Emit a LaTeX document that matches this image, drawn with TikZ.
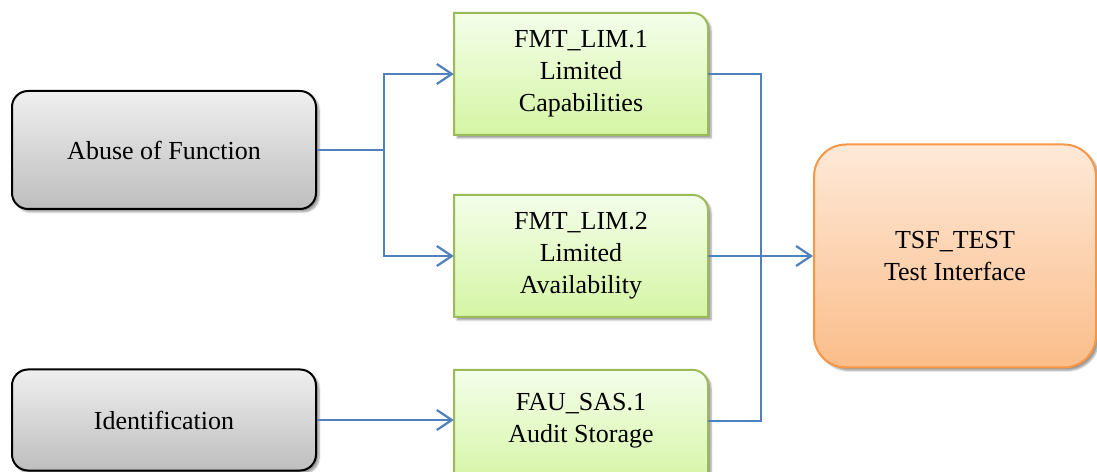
\documentclass[tikz,border=0pt]{standalone}
\usepackage{fontspec}
\setmainfont{Liberation Serif}
\newfontfamily\tnr{Liberation Serif}
\usetikzlibrary{arrows.meta,shadows,shadows.blur}
\definecolor{cblue}{HTML}{4F81BD}
\definecolor{cgreen}{HTML}{9BBB59}
\definecolor{gtop}{HTML}{F4FEEA}
\definecolor{gbot}{HTML}{D5F5A4}
\definecolor{corange}{HTML}{F79646}
\definecolor{otop}{HTML}{FEE9D8}
\definecolor{obot}{HTML}{FBBD8A}
\definecolor{graytop}{HTML}{EFEFEF}
\definecolor{graybot}{HTML}{BEBEBE}
\tikzset{
  txt/.style={font=\tnr\fontsize{26}{32}\selectfont, align=center, inner sep=0pt},
  graybox/.style={txt, draw=black, line width=2pt, rounded corners=16pt,
    top color=graytop, bottom color=graybot,
    blur shadow={shadow xshift=3pt, shadow yshift=-3pt, shadow blur steps=6, shadow opacity=40}},
  greenslot/.style={txt, minimum width=254pt, minimum height=100pt},
  greenbox/.style={draw=cgreen, line width=2pt, top color=gtop, bottom color=gbot,
    blur shadow={shadow xshift=3pt, shadow yshift=-3pt, shadow blur steps=6, shadow opacity=40}},
  orangebox/.style={txt, draw=corange, line width=2pt, rounded corners=32pt,
    top color=otop, bottom color=obot,
    blur shadow={shadow xshift=3pt, shadow yshift=-3pt, shadow blur steps=6, shadow opacity=40}},
  conn/.style={draw=cblue, line width=2.2pt},
  arr/.style={conn, -{Straight Barb[length=15pt, width=20pt, line width=2.2pt]}}
}
% green box: #1 name, #2 text centre, #3 box top y, #4 box bottom y, #5 text
\newcommand\greennode[5]{%
  \path[greenbox] (454,#4) -- (454,#3) -- (693,#3)
    arc[start angle=90, end angle=0, radius=15] -- (708,#4) -- cycle;
  \node[greenslot] (#1) at (#2) {#5};}
\begin{document}
\begin{tikzpicture}[x=1pt, y=1pt]
\useasboundingbox (0,0) rectangle (1097,471);
% left boxes
\node[graybox, minimum width=304pt, minimum height=118pt] (abuse) at (164,321) {Abuse of Function};
\node[graybox, minimum width=304pt, minimum height=101pt] (ident) at (164,51) {Identification};
% green boxes
\greennode{f1}{581,397}{458}{336}{FMT\_LIM.1\\Limited\\Capabilities}
\greennode{f2}{581,215}{276}{154}{FMT\_LIM.2\\Limited\\Availability}
\greennode{f3}{581,50}{101}{-15}{FAU\_SAS.1\\Audit Storage}
% right box
\node[orangebox, minimum width=282pt, minimum height=223pt] (tsf) at (955,215) {TSF\_TEST\\Test Interface};
% connectors
\coordinate (split) at (384,321);
\coordinate (bus) at (761,215);
\draw[conn] (abuse.east) -- (split);
\draw[arr] (split) |- (f1.west);
\draw[arr] (split) |- (f2.west);
\draw[arr] (ident.east) -- (ident.east -| f3.west);
\draw[conn] (f1.east) -| (bus) |- (f3.east);
\draw[arr] (f2.east) -- (tsf.west);
\end{tikzpicture}
\end{document}
